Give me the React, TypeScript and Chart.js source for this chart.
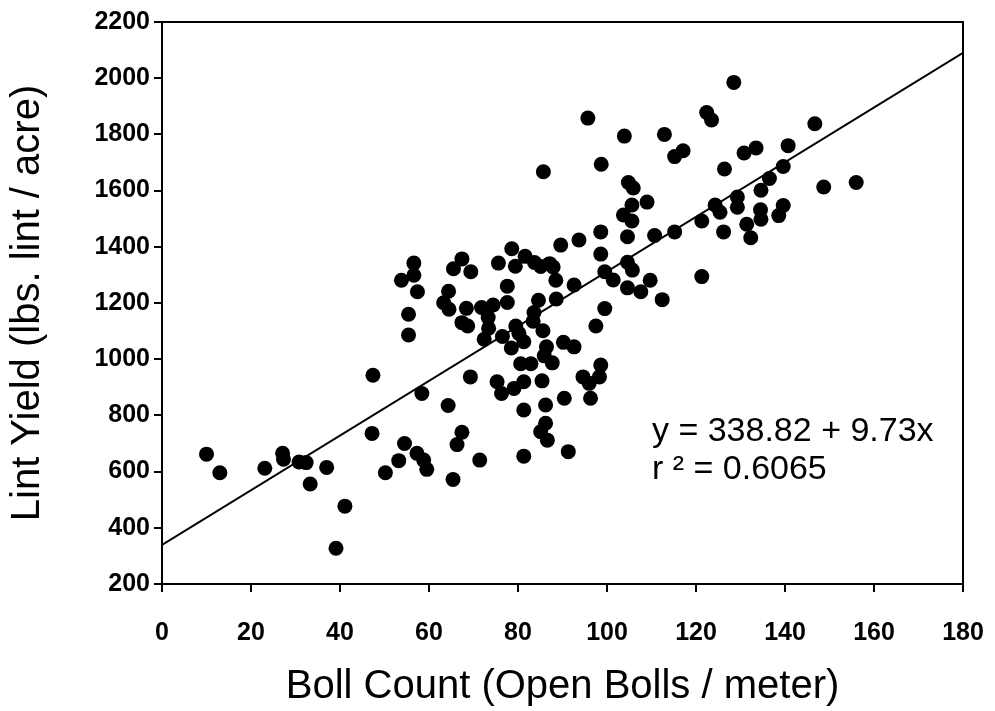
import React, { useEffect, useRef } from "react";
import { Chart, registerables } from "chart.js";

Chart.register(...registerables);

// Boll count (open bolls / meter)
const bollCount: number[] = [
  10.0, 13.0, 23.1, 27.1, 27.3, 30.8, 32.4, 33.3, 37.0, 41.1, 39.1, 47.2, 50.2, 53.2, 54.5, 57.3, 58.8, 59.5,
  65.4, 67.4, 66.3, 64.3, 58.4, 71.4, 81.3, 91.3, 47.4, 69.3, 75.3, 76.3, 79.1, 81.3, 85.4, 81.3, 86.2, 90.4,
  96.3, 86.2, 85.1, 86.6, 94.6, 96.0, 98.3, 98.6, 80.6, 82.9, 87.7, 85.9, 86.4, 90.2, 92.6, 72.4, 76.5, 78.5,
  81.3, 79.5, 80.2, 85.6, 83.4, 83.6, 84.6, 88.6, 77.6, 77.6, 74.4, 71.8, 73.3, 73.4, 68.4, 67.4, 68.7, 63.3,
  64.5, 64.4, 65.5, 67.4, 69.4, 56.6, 56.6, 53.8, 57.4, 55.4, 55.4, 75.6, 78.6, 79.4, 81.6, 83.7, 85.1, 87.1,
  87.9, 88.5, 85.7, 89.6, 93.7, 92.6, 98.6, 98.6, 99.5, 101.4, 104.6, 105.7, 104.6, 107.6, 109.7, 112.4, 99.5,
  97.5, 104.6, 110.7, 95.7, 98.7, 103.9, 112.9, 122.4, 123.5, 115.2, 117.1, 128.5, 146.7, 130.8, 133.5, 140.7,
  126.4, 139.6, 136.5, 134.6, 104.8, 105.9, 109.0, 105.6, 103.7, 105.6, 115.2, 121.3, 124.3, 125.4, 129.3,
  129.3, 126.2, 131.4, 132.3, 134.5, 134.6, 139.6, 138.6, 148.7, 156.0, 121.3,
];

// Lint yield (lbs. lint / acre)
const lintYield: number[] = [
  662, 596, 612, 665, 644, 634, 632, 556, 615, 477, 327, 736, 596, 639, 700, 665, 641, 608,
  572, 740, 696, 835, 878, 641, 655, 671, 943, 937, 920, 878, 896, 920, 923, 819, 837, 861,
  861, 772, 742, 712, 937, 914, 937, 979, 984, 984, 987, 1012, 1044, 1060, 1044, 1071, 1081, 1040,
  1062, 1118, 1092, 1101, 1135, 1166, 1210, 1214, 1202, 1260, 1193, 1184, 1148, 1110, 1181, 1130, 1118, 1201,
  1178, 1242, 1322, 1357, 1311, 1342, 1299, 1281, 1240, 1160, 1086, 1342, 1393, 1331, 1366, 1344, 1330, 1340,
  1328, 1281, 1667, 1406, 1424, 1264, 1453, 1374, 1311, 1282, 1345, 1317, 1254, 1240, 1281, 1212, 1180,
  1118, 1436, 1440, 1858, 1694, 1794, 1800, 1878, 1851, 1721, 1742, 1985, 1838, 1734, 1752, 1760,
  1677, 1686, 1643, 1601, 1629, 1609, 1559, 1549, 1513, 1492, 1453, 1492, 1549, 1523, 1577,
  1541, 1453, 1480, 1432, 1532, 1498, 1547, 1511, 1613, 1629, 1294,
];

// Regression line y = a + b x
const intercept = 338.82;
const slope = 9.73;
const lineRange: number[] = [0, 180];

const xTicks: number[] = [0, 20, 40, 60, 80, 100, 120, 140, 160, 180];
const yTicks: number[] = [200, 400, 600, 800, 1000, 1200, 1400, 1600, 1800, 2000, 2200];

const equationText = "y = 338.82 + 9.73x";
const r2Text = "r \u00B2 = 0.6065";
const equationAnchor = { x: 110.1, y: 748 };

const FONT = "'Liberation Sans', Arial, Helvetica, sans-serif";

export default function App() {
  const canvasRef = useRef<HTMLCanvasElement | null>(null);

  useEffect(() => {
    const canvas = canvasRef.current;
    if (!canvas) return;

    const points = bollCount.map((x, i) => ({ x, y: lintYield[i] }));
    const fitLine = lineRange.map((x) => ({ x, y: intercept + slope * x }));

    const framePlugin = {
      id: "frameAndText",
      afterDatasetsDraw(chart: any) {
        const { ctx, chartArea, scales } = chart;
        ctx.save();
        ctx.strokeStyle = "#000";
        ctx.lineWidth = 2;
        ctx.strokeRect(chartArea.left, chartArea.top, chartArea.right - chartArea.left, chartArea.bottom - chartArea.top);
        const px = scales.x.getPixelForValue(equationAnchor.x);
        const py = scales.y.getPixelForValue(equationAnchor.y);
        ctx.fillStyle = "#000";
        ctx.font = `34px ${FONT}`;
        ctx.textAlign = "left";
        ctx.textBaseline = "middle";
        ctx.fillText(equationText, px, py + 2);
        ctx.fillText(r2Text, px, py + 40);
        ctx.restore();
      },
    };

    const chart = new Chart(canvas, {
      type: "scatter",
      data: {
        datasets: [
          {
            label: "Observations",
            data: points,
            backgroundColor: "#000",
            borderColor: "#000",
            borderWidth: 0,
            pointRadius: 7.5,
            pointHoverRadius: 7.5,
          },
          {
            type: "line",
            label: "Fit",
            data: fitLine,
            borderColor: "#000",
            borderWidth: 2,
            pointRadius: 0,
            showLine: true,
            fill: false,
          } as any,
        ],
      },
      options: {
        responsive: false,
        animation: false,
        devicePixelRatio: 1,
        layout: { padding: { left: 0, top: 22, right: 32, bottom: 0 } },
        plugins: {
          legend: { display: false },
          tooltip: { enabled: false },
        },
        scales: {
          x: {
            type: "linear",
            min: 0,
            max: 180,
            afterBuildTicks: (scale: any) => {
              scale.ticks = xTicks.map((v) => ({ value: v }));
            },
            afterFit: (scale: any) => {
              scale.height = 711 - 584;
              scale.paddingLeft = 0;
              scale.paddingRight = 0;
            },
            ticks: {
              color: "#000",
              font: { family: FONT, size: 25, weight: "bold" },
              padding: 26,
              maxRotation: 0,
              autoSkip: false,
              callback: (v: any) => String(v),
            },
            grid: {
              display: true,
              drawOnChartArea: false,
              drawTicks: true,
              tickLength: 8,
              color: "#000",
              lineWidth: 2,
            },
            border: { display: true, color: "#000", width: 2 },
            title: {
              display: true,
              text: "Boll Count (Open Bolls / meter)",
              color: "#000",
              font: { family: FONT, size: 40 },
              padding: { top: 0, bottom: 0 },
            },
          },
          y: {
            type: "linear",
            min: 200,
            max: 2200,
            afterBuildTicks: (scale: any) => {
              scale.ticks = yTicks.map((v) => ({ value: v }));
            },
            afterFit: (scale: any) => {
              scale.width = 162;
              scale.paddingTop = 0;
              scale.paddingBottom = 0;
            },
            ticks: {
              color: "#000",
              font: { family: FONT, size: 25, weight: "bold" },
              padding: 4,
              autoSkip: false,
              callback: (v: any) => String(v),
            },
            grid: {
              display: true,
              drawOnChartArea: false,
              drawTicks: true,
              tickLength: 8,
              color: "#000",
              lineWidth: 2,
            },
            border: { display: true, color: "#000", width: 2 },
            title: {
              display: true,
              text: "Lint Yield (lbs. lint / acre)",
              color: "#000",
              font: { family: FONT, size: 40 },
              padding: { top: 4, bottom: 0 },
            },
          },
        },
      },
      plugins: [framePlugin],
    });

    return () => {
      chart.destroy();
    };
  }, []);

  return (
    <div style={{ position: "absolute", left: 0, top: 0, width: 995, height: 711, background: "#fff" }}>
      <canvas ref={canvasRef} width={995} height={711} />
    </div>
  );
}
